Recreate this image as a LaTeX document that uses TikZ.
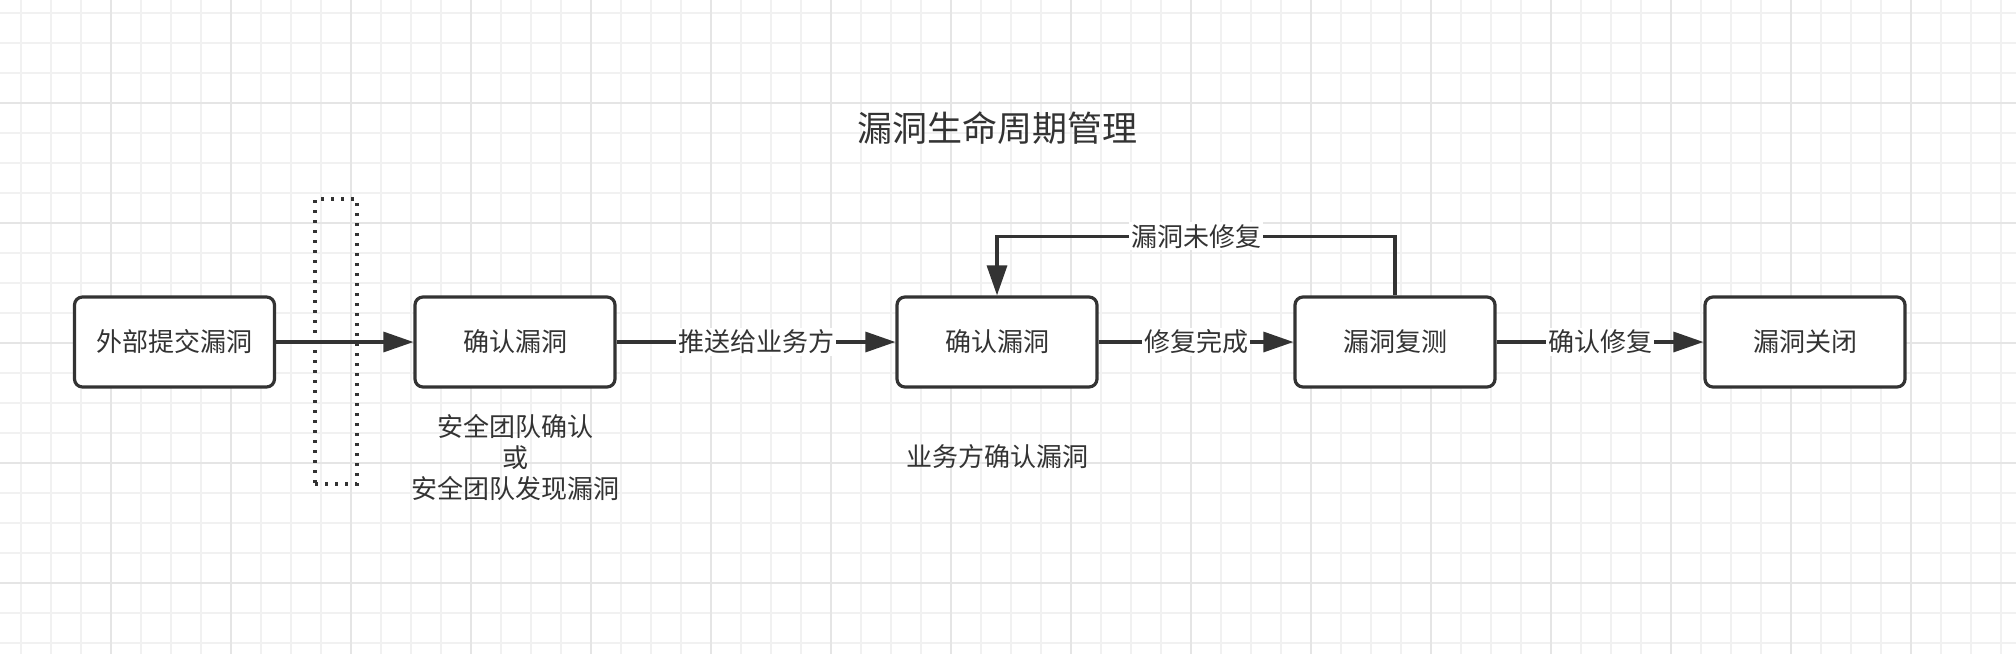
\documentclass[tikz,border=0pt]{standalone}
\usepackage{fontspec}
\setmainfont{Noto Sans CJK SC}
\usetikzlibrary{arrows.meta}
\definecolor{ink}{HTML}{333333}
\definecolor{minorgrid}{HTML}{F1F1F1}
\definecolor{majorgrid}{HTML}{E5E5E5}

\begin{document}
\begin{tikzpicture}[
		x=0.5pt,
		y=-0.5pt,
		>={Triangle[length=15pt,width=10pt]},
		state/.style={
			rectangle,
			draw=ink,
			line width=1.6pt,
			rounded corners=4pt,
			minimum width=100pt,
			minimum height=45pt,
			fill=white,
			text=ink,
			font=\fontsize{13pt}{16pt}\selectfont
		},
		gate/.style={
			rectangle,
			draw=ink,
			line width=1.6pt,
			dash pattern=on 1.6pt off 3.4pt,
			minimum width=21pt,
			minimum height=142.5pt
		},
		flow/.style={->,draw=ink,line width=1.6pt},
		lbl/.style={fill=white,text=ink,inner sep=1pt,font=\fontsize{13pt}{16pt}\selectfont},
		note/.style={text=ink,align=center,font=\fontsize{13pt}{15.5pt}\selectfont}
		]
		\useasboundingbox (0,0) rectangle (2016,654);
		\fill[white] (0,0) rectangle (2016,654);
		
		% background grid
		\foreach \gx in {0,...,66} \draw[minorgrid,line width=0.8pt] (20.7+30*\gx,0) -- (20.7+30*\gx,654);
		\foreach \gy in {0,...,21} \draw[minorgrid,line width=0.8pt] (0,12.7+30*\gy) -- (2016,12.7+30*\gy);
		\foreach \gx in {0,...,15} \draw[majorgrid,line width=0.8pt] (110.7+120*\gx,0) -- (110.7+120*\gx,654);
		\foreach \gy in {0,...,4} \draw[majorgrid,line width=0.8pt] (0,102.7+120*\gy) -- (2016,102.7+120*\gy);
		
		\node[text=ink,font=\fontsize{17.5pt}{21pt}\selectfont] (title) at (997,128) {漏洞生命周期管理};
		
		\node[gate] (gate) at (336,341.5) {};
		
		\node[state] (external) at (174.5,342) {外部提交漏洞};
		\node[state] (secconfirm) at (515,342) {确认漏洞};
		\node[state] (bizconfirm) at (997,342) {确认漏洞};
		\node[state] (retest) at (1395,342) {漏洞复测};
		\node[state] (closed) at (1805,342) {漏洞关闭};
		
		\node[note] (secnote) at (515,458) {安全团队确认\\或\\安全团队发现漏洞};
		\node[note] (biznote) at (997,457) {业务方确认漏洞};
		
		\draw[flow] (external) -- (secconfirm);
		\draw[flow] (secconfirm) -- (bizconfirm) node[lbl,midway]{推送给业务方};
		\draw[flow] (bizconfirm) -- (retest) node[lbl,midway]{修复完成};
		\draw[flow] (retest) -- (closed) node[lbl,midway]{确认修复};
		\draw[flow] (retest.north) -- ++(0,-59) -| (bizconfirm.north) node[lbl,pos=0.25]{漏洞未修复};
		\end{tikzpicture}
\end{document}
